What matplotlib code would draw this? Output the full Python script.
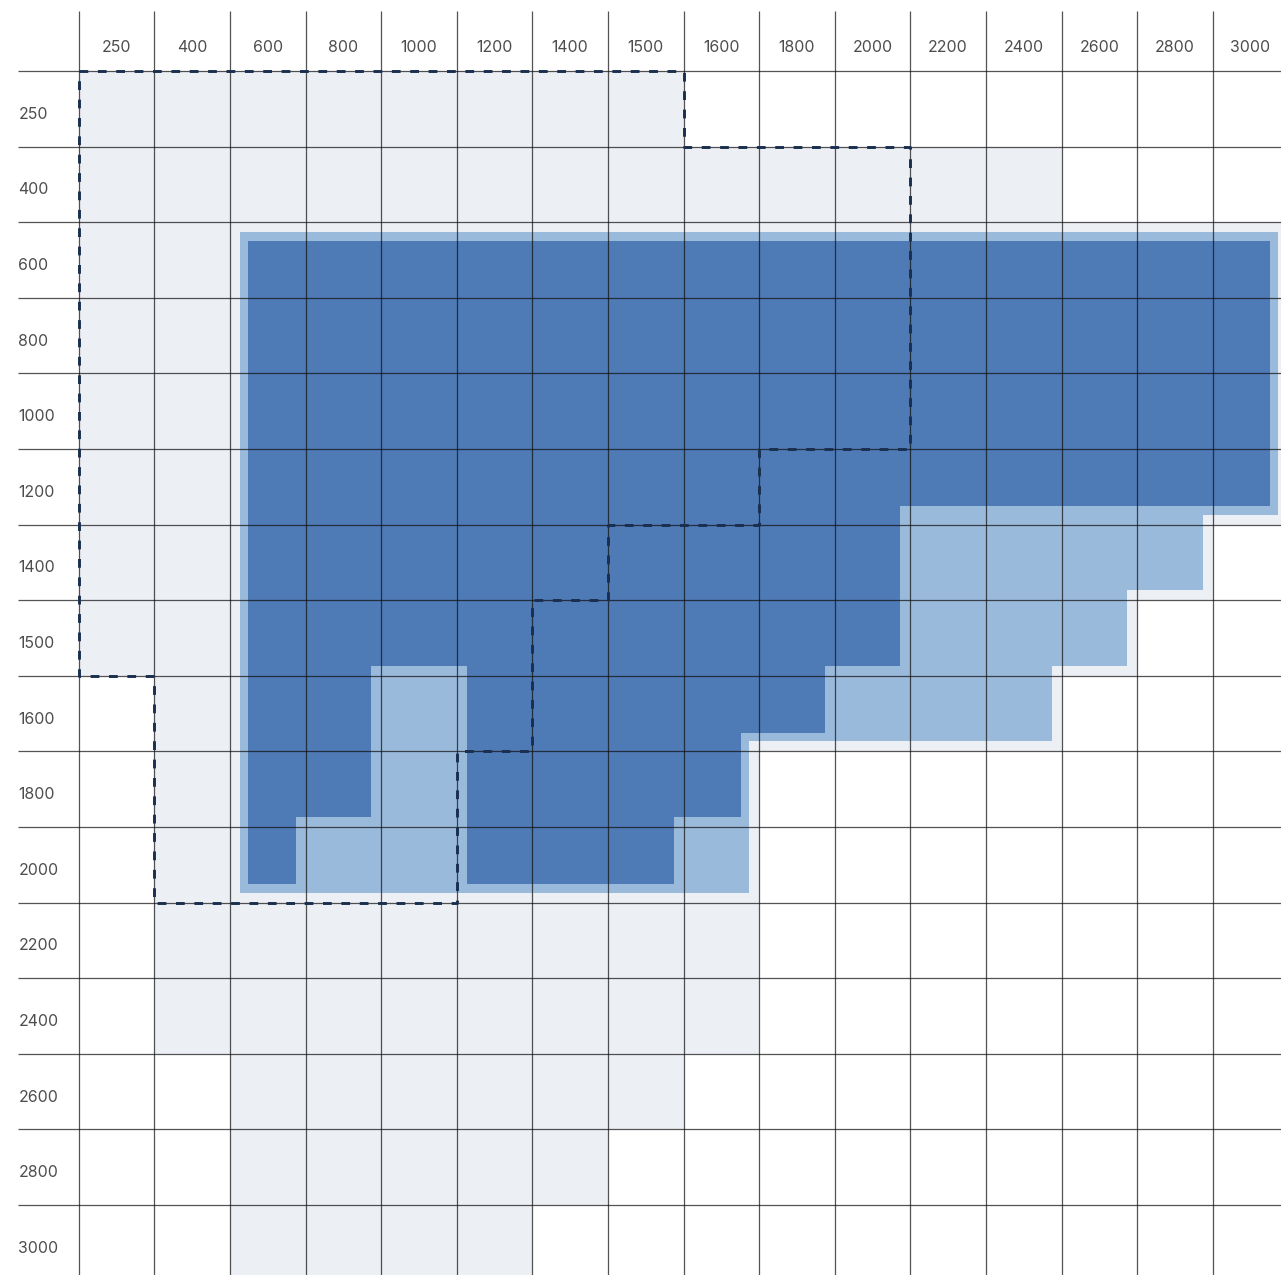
import math
import matplotlib
matplotlib.use("Agg")
import matplotlib.pyplot as plt
from matplotlib.path import Path
from matplotlib.patches import PathPatch

# ---------------- data ----------------
SIZES = [250, 400, 600, 800, 1000, 1200, 1400, 1500, 1600, 1800, 2000,
         2200, 2400, 2600, 2800, 3000]
col_labels = [str(s) for s in SIZES]
row_labels = [str(s) for s in SIZES]

# per row index: list of (first column index, last column index) inclusive
gray_rows = {0: [(0, 7)], 1: [(0, 12)], 2: [(0, 15)], 3: [(0, 15)], 4: [(0, 15)],
             5: [(0, 15)], 6: [(0, 14)], 7: [(0, 13)], 8: [(1, 12)], 9: [(1, 8)],
             10: [(1, 8)], 11: [(1, 8)], 12: [(1, 8)], 13: [(2, 7)], 14: [(2, 6)],
             15: [(2, 5)]}
light_rows = {2: [(2, 15)], 3: [(2, 15)], 4: [(2, 15)], 5: [(2, 15)], 6: [(2, 14)],
              7: [(2, 13)], 8: [(2, 12)], 9: [(2, 8)], 10: [(2, 8)]}
dark_band_rows = {2: [(2, 15)], 3: [(2, 15)], 4: [(2, 15)], 5: [(2, 15)]}
dark_step_rows = {2: [(2, 10)], 3: [(2, 10)], 4: [(2, 10)], 5: [(2, 10)],
                  6: [(2, 10)], 7: [(2, 10)], 8: [(2, 3), (5, 9)],
                  9: [(2, 3), (5, 8)], 10: [(2, 2), (5, 7)]}
dashed_rows = {0: (0, 7), 1: (0, 10), 2: (0, 10), 3: (0, 10), 4: (0, 10),
               5: (0, 8), 6: (0, 6), 7: (0, 5), 8: (1, 5), 9: (1, 4), 10: (1, 4)}

# ---------------- style ----------------
GRAY = "#eceff4"
LIGHT = "#9abadc"
DARK = "#4e7ab5"
DASH = "#1a2f50"
TEXT = "#4d4d4d"
LIGHT_INSET = 0.132
DARK_INNER_INSET = 0.132
DARK_OUTER_INSET = 0.243

W_PX, H_PX = 1281, 1275
X0_PX, Y0_PX, CELL_PX = 78.7, 71.0, 75.6

plt.rcParams["font.family"] = ["Inter", "DejaVu Sans"]


def cells_of(rows):
    s = set()
    for r, ivs in rows.items():
        for a, b in ivs:
            for c in range(a, b + 1):
                s.add((r, c))
    return s


def rects_path(rects):
    verts, codes = [], []
    for x0, y0, x1, y1 in rects:
        verts += [(x0, y0), (x1, y0), (x1, y1), (x0, y1), (x0, y0)]
        codes += [Path.MOVETO, Path.LINETO, Path.LINETO, Path.LINETO, Path.CLOSEPOLY]
    return Path(verts, codes)


def eroded_rects(cells, inset_of, insets):
    pts = set()
    for k in range(-2, 19):
        for d in [0.0] + list(insets):
            pts.add(round(k + d, 9))
            pts.add(round(k + 1 - d, 9))
    xs = sorted(pts)
    ys = sorted(pts)

    def inside(px, py):
        r, c = int(math.floor(py)), int(math.floor(px))
        if (r, c) not in cells:
            return False
        for dr in (-1, 0, 1):
            for dc in (-1, 0, 1):
                q = (r + dr, c + dc)
                if q in cells:
                    continue
                d = inset_of(q)
                dx = max(q[1] - px, 0.0, px - (q[1] + 1))
                dy = max(q[0] - py, 0.0, py - (q[0] + 1))
                if max(dx, dy) < d:
                    return False
        return True

    rects = []
    for j in range(len(ys) - 1):
        y0, y1 = ys[j], ys[j + 1]
        py = (y0 + y1) / 2
        start = None
        for i in range(len(xs) - 1):
            x0, x1 = xs[i], xs[i + 1]
            ok = inside((x0 + x1) / 2, py)
            if ok and start is None:
                start = x0
            if not ok and start is not None:
                rects.append((start, y0, x0, y1))
                start = None
        if start is not None:
            rects.append((start, y0, xs[-1], y1))
    return rects


fig = plt.figure(figsize=(W_PX / 100, H_PX / 100), dpi=100)
ax = fig.add_axes([0, 0, 1, 1])
ax.set_xlim(-X0_PX / CELL_PX, (W_PX - X0_PX) / CELL_PX)
ax.set_ylim((H_PX - Y0_PX) / CELL_PX, -Y0_PX / CELL_PX)
ax.axis("off")

n = len(SIZES)

# gray availability
gray_cells = cells_of(gray_rows)
gray_rects = [(a, r, b + 1, r + 1) for r, ivs in gray_rows.items() for a, b in ivs]
ax.add_patch(PathPatch(rects_path(gray_rects), facecolor=GRAY, edgecolor="none", zorder=1))

# light blue
light_cells = cells_of(light_rows)
lr = eroded_rects(light_cells, lambda q: LIGHT_INSET, [LIGHT_INSET])
ax.add_patch(PathPatch(rects_path(lr), facecolor=LIGHT, edgecolor="none", zorder=2))

# dark blue
band_cells = cells_of(dark_band_rows)
step_cells = cells_of(dark_step_rows)
br = eroded_rects(band_cells, lambda q: DARK_OUTER_INSET, [DARK_OUTER_INSET])
sr = eroded_rects(step_cells,
                  lambda q: DARK_INNER_INSET if q in light_cells else DARK_OUTER_INSET,
                  [DARK_INNER_INSET, DARK_OUTER_INSET])
ax.add_patch(PathPatch(rects_path(br + sr), facecolor=DARK, edgecolor="none", zorder=3))

# grid
ax.vlines(range(n), -0.794, n + 1, colors="#111111", linewidth=0.9, alpha=0.72, zorder=4)
ax.hlines(range(n), -0.799, n + 1, colors="#111111", linewidth=0.9, alpha=0.72, zorder=4)

# dashed outline
rows_sorted = sorted(dashed_rows)
pts = [(dashed_rows[rows_sorted[0]][0], rows_sorted[0])]
for r in rows_sorted:
    lo, hi = dashed_rows[r]
    pts += [(hi + 1, r), (hi + 1, r + 1)]
for r in reversed(rows_sorted):
    lo, hi = dashed_rows[r]
    pts += [(lo, r + 1), (lo, r)]
xs_d = [p[0] for p in pts]
ys_d = [p[1] for p in pts]
ax.plot(xs_d, ys_d, color=DASH, linewidth=2.1, linestyle=(0, (3.0, 3.3)),
        solid_joinstyle="miter", dash_capstyle="butt", zorder=5)

# labels
for c, lab in enumerate(col_labels):
    ax.text(c + 0.5, -0.255, lab, ha="center", va="baseline", fontsize=11.4, color=TEXT)
for r, lab in enumerate(row_labels):
    ax.text(-0.799, r + 0.633, lab, ha="left", va="baseline", fontsize=11.4, color=TEXT)

fig.savefig("out.png", dpi=100)
